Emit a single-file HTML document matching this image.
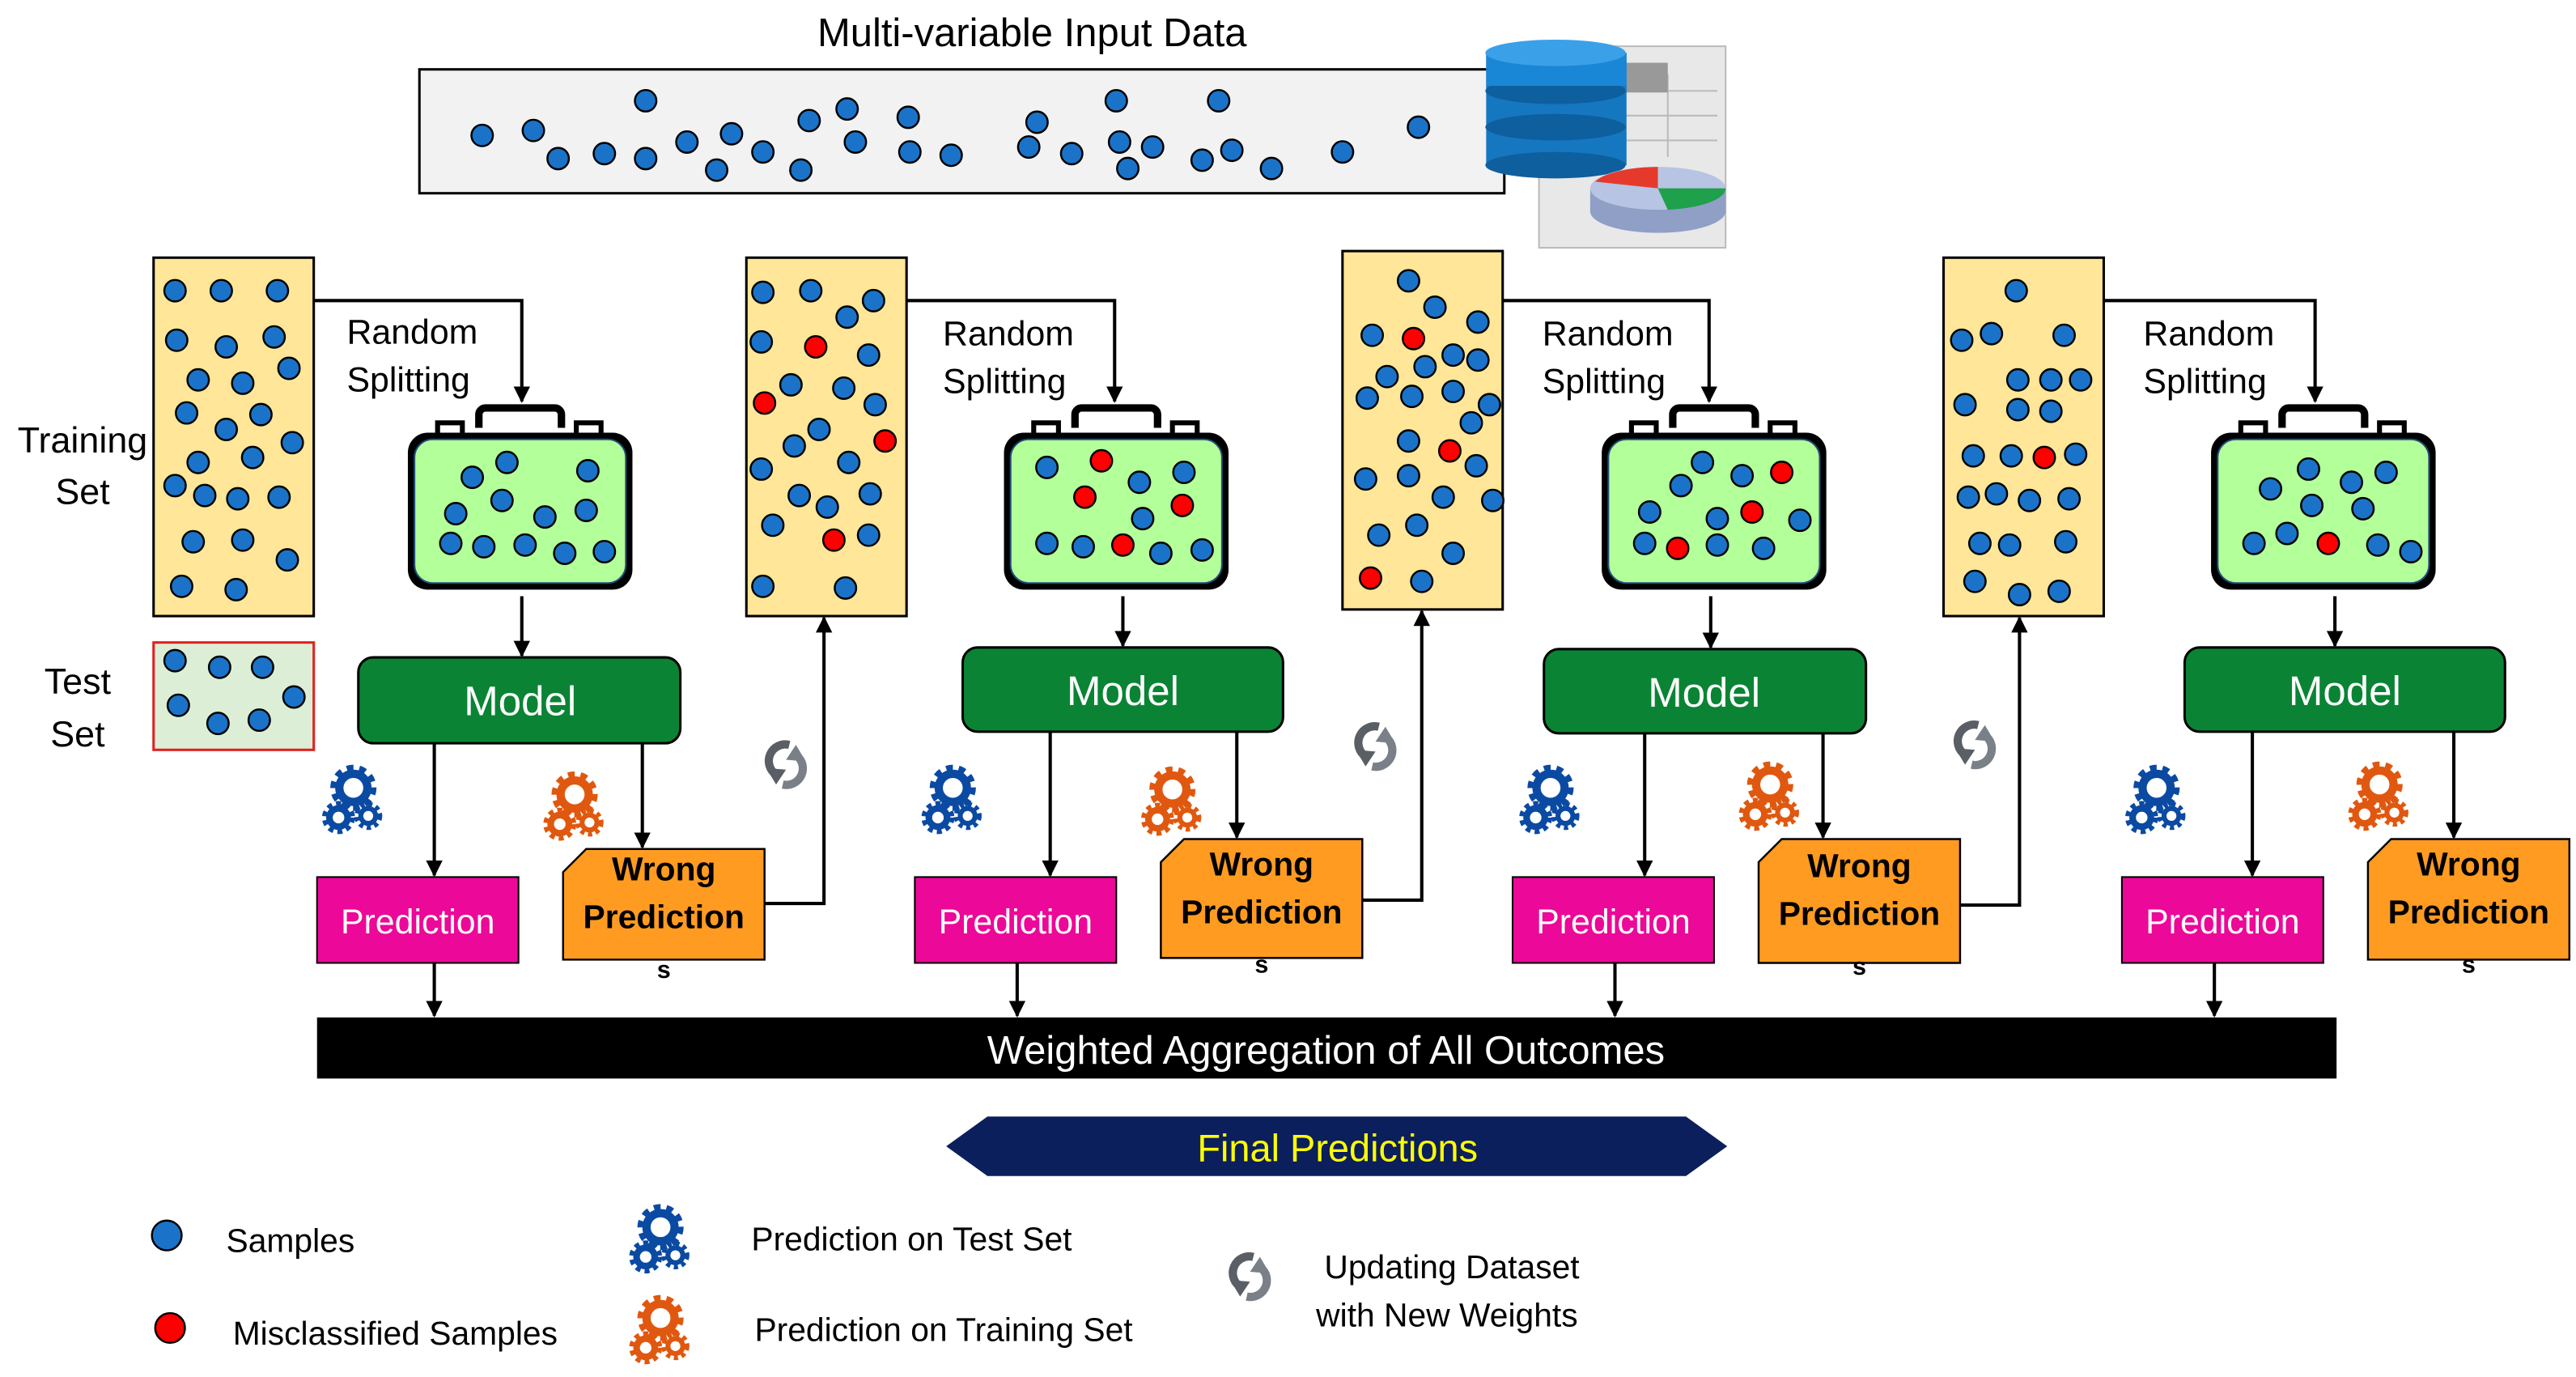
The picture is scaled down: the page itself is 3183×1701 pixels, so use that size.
<!DOCTYPE html>
<html><head><meta charset="utf-8"><style>
html,body{margin:0;padding:0;background:#fff;}
svg{display:block;}
text{font-family:"Liberation Sans",sans-serif;}
</style></head><body>
<svg width="3183" height="1701" viewBox="0 0 1560 833.7" preserveAspectRatio="none" xmlns="http://www.w3.org/2000/svg">
<defs>
<marker id="ar" viewBox="0 0 10 10" refX="9" refY="5" markerWidth="5" markerHeight="5" orient="auto"><path d="M0,0L10,5L0,10z" fill="#000"/></marker>
<g id="gb">
 <circle cx="0" cy="-9" r="8.5" fill="none" stroke="#0b4aa2" stroke-width="5"/>
 <circle cx="0" cy="-9" r="12" fill="none" stroke="#0b4aa2" stroke-width="4" stroke-dasharray="4 3.5"/>
 <circle cx="-9" cy="9" r="5.5" fill="none" stroke="#0b4aa2" stroke-width="4"/>
 <circle cx="-9" cy="9" r="8.5" fill="none" stroke="#0b4aa2" stroke-width="3" stroke-dasharray="3 2.5"/>
 <circle cx="9" cy="8" r="4.5" fill="none" stroke="#0b4aa2" stroke-width="3"/>
 <circle cx="9" cy="8" r="7" fill="none" stroke="#0b4aa2" stroke-width="3" stroke-dasharray="2.5 2.2"/>
</g>
<g id="go">
 <circle cx="0" cy="-9" r="8.5" fill="none" stroke="#e0580f" stroke-width="5"/>
 <circle cx="0" cy="-9" r="12" fill="none" stroke="#e0580f" stroke-width="4" stroke-dasharray="4 3.5"/>
 <circle cx="-9" cy="9" r="5.5" fill="none" stroke="#e0580f" stroke-width="4"/>
 <circle cx="-9" cy="9" r="8.5" fill="none" stroke="#e0580f" stroke-width="3" stroke-dasharray="3 2.5"/>
 <circle cx="9" cy="8" r="4.5" fill="none" stroke="#e0580f" stroke-width="3"/>
 <circle cx="9" cy="8" r="7" fill="none" stroke="#e0580f" stroke-width="3" stroke-dasharray="2.5 2.2"/>
</g>
<g id="up">
 <path d="M2,-12 A10,10 0 0 0 -6,6" fill="none" stroke="#5a5f66" stroke-width="5"/>
 <path d="M-12,2 L-6,12 L0,3 z" fill="#5a5f66"/>
 <path d="M-2,12 A10,10 0 0 0 8,-4" fill="none" stroke="#7a8088" stroke-width="5"/>
 <path d="M12,-2 L6,-12 L0,-3 z" fill="#7a8088"/>
</g>
<g id="case">
 <path d="M43,12 v-8 a4,4 0 0 1 4,-4 h42 a4,4 0 0 1 4,4 v8" fill="none" stroke="#000" stroke-width="4.5"/>
 <rect x="18" y="9" width="15" height="8" fill="#fff" stroke="#000" stroke-width="3"/>
 <rect x="102" y="9" width="15" height="8" fill="#fff" stroke="#000" stroke-width="3"/>
 <rect x="0" y="15" width="136" height="95" rx="12" fill="#000"/>
 <rect x="4" y="19" width="128" height="87" rx="11" fill="#b3ff99" stroke="#1f4e79" stroke-width="1"/>
</g>
</defs>

<!-- Title and input -->
<text x="625" y="28" font-size="24" text-anchor="middle">Multi-variable Input Data</text>
<rect x="254" y="42" width="657" height="75" fill="#f2f2f2" stroke="#000" stroke-width="1.5"/>
<g fill="#1a73c8" stroke="#000" stroke-width="1.2">
<circle cx="292" cy="82" r="6.5"/><circle cx="323" cy="79" r="6.5"/><circle cx="338" cy="96" r="6.5"/><circle cx="366" cy="93" r="6.5"/><circle cx="391" cy="61" r="6.5"/><circle cx="391" cy="96" r="6.5"/><circle cx="416" cy="86" r="6.5"/><circle cx="434" cy="103" r="6.5"/><circle cx="443" cy="81" r="6.5"/><circle cx="462" cy="92" r="6.5"/><circle cx="485" cy="103" r="6.5"/><circle cx="490" cy="73" r="6.5"/><circle cx="513" cy="66" r="6.5"/><circle cx="518" cy="86" r="6.5"/><circle cx="550" cy="71" r="6.5"/><circle cx="551" cy="92" r="6.5"/><circle cx="576" cy="94" r="6.5"/><circle cx="623" cy="89" r="6.5"/><circle cx="628" cy="74" r="6.5"/><circle cx="649" cy="93" r="6.5"/><circle cx="676" cy="61" r="6.5"/><circle cx="678" cy="86" r="6.5"/><circle cx="683" cy="102" r="6.5"/><circle cx="698" cy="89" r="6.5"/><circle cx="728" cy="97" r="6.5"/><circle cx="738" cy="61" r="6.5"/><circle cx="746" cy="91" r="6.5"/><circle cx="770" cy="102" r="6.5"/><circle cx="813" cy="92" r="6.5"/><circle cx="859" cy="77" r="6.5"/>
</g>
<!-- database icon -->
<rect x="932" y="28" width="113" height="122" fill="#e8e8e8" stroke="#bbb"/>
<g stroke="#bbb" stroke-width="1"><line x1="985" y1="55" x2="1040" y2="55"/><line x1="985" y1="70" x2="1040" y2="70"/><line x1="985" y1="85" x2="1040" y2="85"/><line x1="1010" y1="45" x2="1010" y2="95"/></g>
<rect x="980" y="38" width="30" height="18" fill="#999"/>
<g>
<rect x="900" y="32" width="85" height="68" fill="#1577c0"/>
<ellipse cx="942" cy="100" rx="42.5" ry="8" fill="#0e5f9e"/>
<ellipse cx="942" cy="77" rx="42.5" ry="8" fill="#0e5f9e"/>
<ellipse cx="942" cy="55" rx="42.5" ry="8" fill="#0e5f9e"/>
<rect x="900" y="32" width="85" height="20" fill="#1a86d6"/>
<ellipse cx="942" cy="32" rx="42.5" ry="8" fill="#3aa0e8"/>
</g>
<ellipse cx="1004" cy="128" rx="41" ry="13" fill="#8f9fc6"/>
<rect x="963" y="114" width="82" height="14" fill="#8f9fc6"/>
<ellipse cx="1004" cy="114" rx="41" ry="13" fill="#b8c4e4"/>
<path d="M1004,114 L1004,101 A41,13 0 0 0 966,110 z" fill="#e53a2b"/>
<path d="M1004,114 L1045,114 A41,13 0 0 1 1010,127 z" fill="#1fa04a"/>

<!-- labels left -->
<text x="50" y="274" font-size="22" text-anchor="middle">Training</text>
<text x="50" y="305" font-size="22" text-anchor="middle">Set</text>
<text x="47" y="420" font-size="22" text-anchor="middle">Test</text>
<text x="47" y="452" font-size="22" text-anchor="middle">Set</text>
<rect x="93" y="389" width="97" height="65" fill="#dcefd6" stroke="#e02020" stroke-width="1.5"/>
<g fill="#1a73c8" stroke="#000" stroke-width="1.2"><circle cx="106" cy="400" r="6.5"/><circle cx="133" cy="404" r="6.5"/><circle cx="159" cy="404" r="6.5"/><circle cx="178" cy="422" r="6.5"/><circle cx="108" cy="427" r="6.5"/><circle cx="132" cy="438" r="6.5"/><circle cx="157" cy="436" r="6.5"/></g>

<!-- training boxes -->
<g fill="#ffe699" stroke="#000" stroke-width="1.5">
<rect x="93" y="156" width="97" height="217"/>
<rect x="452" y="156" width="97" height="217"/>
<rect x="813" y="152" width="97" height="217"/>
<rect x="1177" y="156" width="97" height="217"/>
</g>
<g fill="#1a73c8" stroke="#000" stroke-width="1.2">
<circle cx="106" cy="176" r="6.5"/><circle cx="134" cy="176" r="6.5"/><circle cx="168" cy="176" r="6.5"/><circle cx="107" cy="206" r="6.5"/><circle cx="137" cy="210" r="6.5"/><circle cx="166" cy="204" r="6.5"/><circle cx="120" cy="230" r="6.5"/><circle cx="147" cy="232" r="6.5"/><circle cx="175" cy="223" r="6.5"/><circle cx="113" cy="250" r="6.5"/><circle cx="137" cy="260" r="6.5"/><circle cx="158" cy="251" r="6.5"/><circle cx="177" cy="268" r="6.5"/><circle cx="120" cy="280" r="6.5"/><circle cx="153" cy="277" r="6.5"/><circle cx="106" cy="294" r="6.5"/><circle cx="124" cy="300" r="6.5"/><circle cx="144" cy="302" r="6.5"/><circle cx="169" cy="301" r="6.5"/><circle cx="117" cy="328" r="6.5"/><circle cx="147" cy="327" r="6.5"/><circle cx="174" cy="339" r="6.5"/><circle cx="110" cy="355" r="6.5"/><circle cx="143" cy="357" r="6.5"/>

<circle cx="462" cy="177" r="6.5"/><circle cx="491" cy="176" r="6.5"/><circle cx="529" cy="182" r="6.5"/><circle cx="513" cy="192" r="6.5"/><circle cx="461" cy="207" r="6.5"/><circle cx="526" cy="215" r="6.5"/><circle cx="479" cy="233" r="6.5"/><circle cx="511" cy="235" r="6.5"/><circle cx="530" cy="245" r="6.5"/><circle cx="496" cy="260" r="6.5"/><circle cx="481" cy="270" r="6.5"/><circle cx="514" cy="280" r="6.5"/><circle cx="461" cy="284" r="6.5"/><circle cx="484" cy="300" r="6.5"/><circle cx="501" cy="307" r="6.5"/><circle cx="527" cy="299" r="6.5"/><circle cx="468" cy="318" r="6.5"/><circle cx="526" cy="324" r="6.5"/><circle cx="462" cy="355" r="6.5"/><circle cx="512" cy="356" r="6.5"/>

<circle cx="853" cy="170" r="6.5"/><circle cx="869" cy="186" r="6.5"/><circle cx="895" cy="195" r="6.5"/><circle cx="831" cy="203" r="6.5"/><circle cx="880" cy="215" r="6.5"/><circle cx="840" cy="228" r="6.5"/><circle cx="863" cy="222" r="6.5"/><circle cx="895" cy="218" r="6.5"/><circle cx="828" cy="241" r="6.5"/><circle cx="855" cy="240" r="6.5"/><circle cx="880" cy="237" r="6.5"/><circle cx="902" cy="245" r="6.5"/><circle cx="853" cy="267" r="6.5"/><circle cx="891" cy="256" r="6.5"/><circle cx="827" cy="290" r="6.5"/><circle cx="853" cy="288" r="6.5"/><circle cx="894" cy="282" r="6.5"/><circle cx="874" cy="301" r="6.5"/><circle cx="904" cy="303" r="6.5"/><circle cx="835" cy="324" r="6.5"/><circle cx="858" cy="318" r="6.5"/><circle cx="880" cy="335" r="6.5"/><circle cx="861" cy="352" r="6.5"/>

<circle cx="1221" cy="176" r="6.5"/><circle cx="1188" cy="206" r="6.5"/><circle cx="1206" cy="202" r="6.5"/><circle cx="1250" cy="203" r="6.5"/><circle cx="1222" cy="230" r="6.5"/><circle cx="1242" cy="230" r="6.5"/><circle cx="1190" cy="245" r="6.5"/><circle cx="1222" cy="248" r="6.5"/><circle cx="1242" cy="249" r="6.5"/><circle cx="1260" cy="230" r="6.5"/><circle cx="1195" cy="276" r="6.5"/><circle cx="1218" cy="276" r="6.5"/><circle cx="1257" cy="275" r="6.5"/><circle cx="1192" cy="301" r="6.5"/><circle cx="1209" cy="299" r="6.5"/><circle cx="1229" cy="303" r="6.5"/><circle cx="1253" cy="302" r="6.5"/><circle cx="1199" cy="329" r="6.5"/><circle cx="1217" cy="330" r="6.5"/><circle cx="1251" cy="328" r="6.5"/><circle cx="1196" cy="352" r="6.5"/><circle cx="1223" cy="360" r="6.5"/><circle cx="1247" cy="358" r="6.5"/>
</g>
<g fill="#ff0000" stroke="#000" stroke-width="1.2">
<circle cx="494" cy="210" r="6.5"/><circle cx="463" cy="244" r="6.5"/><circle cx="536" cy="267" r="6.5"/><circle cx="505" cy="327" r="6.5"/>
<circle cx="856" cy="205" r="6.5"/><circle cx="878" cy="273" r="6.5"/><circle cx="830" cy="350" r="6.5"/>
<circle cx="1238" cy="277" r="6.5"/>
</g>

<!-- suitcases -->
<use href="#case" x="247" y="247"/>
<use href="#case" x="608" y="247"/>
<use href="#case" x="970" y="247"/>
<use href="#case" x="1339" y="247"/>
<g fill="#1a73c8" stroke="#000" stroke-width="1.2">
<circle cx="286" cy="289" r="6.5"/><circle cx="307" cy="280" r="6.5"/><circle cx="356" cy="285" r="6.5"/><circle cx="276" cy="311" r="6.5"/><circle cx="304" cy="303" r="6.5"/><circle cx="330" cy="313" r="6.5"/><circle cx="355" cy="309" r="6.5"/><circle cx="273" cy="329" r="6.5"/><circle cx="293" cy="331" r="6.5"/><circle cx="318" cy="330" r="6.5"/><circle cx="342" cy="335" r="6.5"/><circle cx="366" cy="334" r="6.5"/>
<circle cx="634" cy="283" r="6.5"/><circle cx="717" cy="286" r="6.5"/><circle cx="690" cy="292" r="6.5"/><circle cx="634" cy="329" r="6.5"/><circle cx="656" cy="331" r="6.5"/><circle cx="703" cy="335" r="6.5"/><circle cx="728" cy="333" r="6.5"/><circle cx="692" cy="314" r="6.5"/>
<circle cx="1018" cy="294" r="6.5"/><circle cx="1031" cy="280" r="6.5"/><circle cx="1055" cy="288" r="6.5"/><circle cx="999" cy="310" r="6.5"/><circle cx="1040" cy="314" r="6.5"/><circle cx="996" cy="329" r="6.5"/><circle cx="1040" cy="330" r="6.5"/><circle cx="1068" cy="332" r="6.5"/><circle cx="1090" cy="315" r="6.5"/>
<circle cx="1375" cy="296" r="6.5"/><circle cx="1398" cy="284" r="6.5"/><circle cx="1445" cy="286" r="6.5"/><circle cx="1385" cy="323" r="6.5"/><circle cx="1400" cy="306" r="6.5"/><circle cx="1424" cy="292" r="6.5"/><circle cx="1365" cy="329" r="6.5"/><circle cx="1431" cy="308" r="6.5"/><circle cx="1440" cy="330" r="6.5"/><circle cx="1460" cy="334" r="6.5"/>
</g>
<g fill="#ff0000" stroke="#000" stroke-width="1.2">
<circle cx="667" cy="279" r="6.5"/><circle cx="657" cy="301" r="6.5"/><circle cx="716" cy="306" r="6.5"/><circle cx="680" cy="330" r="6.5"/>
<circle cx="1079" cy="286" r="6.5"/><circle cx="1061" cy="310" r="6.5"/><circle cx="1016" cy="332" r="6.5"/>
<circle cx="1410" cy="329" r="6.5"/>
</g>

<!-- Random splitting -->
<g font-size="21">
<text x="210" y="208">Random</text><text x="210" y="237">Splitting</text>
<text x="571" y="209">Random</text><text x="571" y="238">Splitting</text>
<text x="934" y="209">Random</text><text x="934" y="238">Splitting</text>
<text x="1298" y="209">Random</text><text x="1298" y="238">Splitting</text>
</g>
<g fill="none" stroke="#000" stroke-width="2" marker-end="url(#ar)">
<path d="M190,182 H316 V243"/>
<path d="M549,182 H675 V243"/>
<path d="M910,182 H1035 V243"/>
<path d="M1274,182 H1402 V243"/>
<path d="M316,361 V397"/>
<path d="M680,361 V391"/>
<path d="M1036,361 V392"/>
<path d="M1414,361 V391"/>
<path d="M263,450 V530"/><path d="M389,450 V513"/>
<path d="M636,443 V530"/><path d="M749,443 V507"/>
<path d="M996,444 V530"/><path d="M1104,444 V507"/>
<path d="M1364,443 V530"/><path d="M1486,443 V507"/>
<path d="M463,547 H499 V374"/>
<path d="M825,545 H861 V370"/>
<path d="M1187,548 H1223 V374"/>
<path d="M263,583 V615"/><path d="M616,583 V615"/><path d="M978,583 V615"/><path d="M1341,583 V615"/>
</g>

<!-- Models -->
<g fill="#0a8434" stroke="#000" stroke-width="1.5">
<rect x="217" y="398" width="195" height="52" rx="9"/>
<rect x="583" y="392" width="194" height="51" rx="9"/>
<rect x="935" y="393" width="195" height="51" rx="9"/>
<rect x="1323" y="392" width="194" height="51" rx="9"/>
</g>
<g fill="#fff" font-size="25" text-anchor="middle">
<text x="315" y="433">Model</text><text x="680" y="427">Model</text><text x="1032" y="428">Model</text><text x="1420" y="427">Model</text>
</g>

<!-- Predictions -->
<g fill="#ec0898" stroke="#000" stroke-width="1">
<rect x="192" y="531" width="122" height="52"/>
<rect x="554" y="531" width="122" height="52"/>
<rect x="916" y="531" width="122" height="52"/>
<rect x="1285" y="531" width="122" height="52"/>
</g>
<g fill="#fff" font-size="21" text-anchor="middle">
<text x="253" y="565">Prediction</text><text x="615" y="565">Prediction</text><text x="977" y="565">Prediction</text><text x="1346" y="565">Prediction</text>
</g>

<!-- Wrong predictions -->
<g fill="#ff9b21" stroke="#000" stroke-width="1.2">
<path d="M355,514 H463 V581 H341 V528 z"/>
<path d="M717,508 H825 V580 H703 V522 z"/>
<path d="M1079,508 H1187 V583 H1065 V522 z"/>
<path d="M1448,508 H1556 V581 H1434 V522 z"/>
</g>
<g font-size="20" font-weight="bold" text-anchor="middle">
<text x="402" y="533">Wrong</text><text x="402" y="562">Prediction</text><text x="402" y="592" font-size="15">s</text>
<text x="764" y="530">Wrong</text><text x="764" y="559">Prediction</text><text x="764" y="589" font-size="15">s</text>
<text x="1126" y="531">Wrong</text><text x="1126" y="560">Prediction</text><text x="1126" y="590" font-size="15">s</text>
<text x="1495" y="530">Wrong</text><text x="1495" y="559">Prediction</text><text x="1495" y="589" font-size="15">s</text>
</g>

<!-- icons -->
<use href="#gb" x="214" y="486"/><use href="#gb" x="577" y="486"/><use href="#gb" x="939" y="486"/><use href="#gb" x="1306" y="486"/>
<use href="#go" x="348" y="490"/><use href="#go" x="710" y="487"/><use href="#go" x="1072" y="484"/><use href="#go" x="1441" y="484"/>
<use href="#up" x="476" y="463"/><use href="#up" x="833" y="452"/><use href="#up" x="1196" y="451"/>

<!-- aggregation -->
<rect x="192" y="616" width="1223" height="37" fill="#000"/>
<text x="803" y="644" fill="#fff" font-size="24" text-anchor="middle">Weighted Aggregation of All Outcomes</text>
<path d="M573,694 L598,676 H1021 L1046,694 L1021,712 H598 z" fill="#0b1f5c"/>
<text x="810" y="703" fill="#ffff00" font-size="23" text-anchor="middle">Final Predictions</text>

<!-- legend -->
<circle cx="101" cy="748" r="9" fill="#1a73c8" stroke="#000" stroke-width="1.2"/>
<circle cx="103" cy="804" r="9" fill="#ff0000" stroke="#000" stroke-width="1.2"/>
<g font-size="20">
<text x="137" y="758">Samples</text>
<text x="141" y="814">Misclassified Samples</text>
<text x="455" y="757">Prediction on Test Set</text>
<text x="457" y="812">Prediction on Training Set</text>
<text x="802" y="774">Updating Dataset</text>
<text x="797" y="803">with New Weights</text>
</g>
<use href="#gb" x="400" y="752"/>
<use href="#go" x="400" y="807"/>
<use href="#up" x="757" y="773"/>
</svg>
</body></html>
